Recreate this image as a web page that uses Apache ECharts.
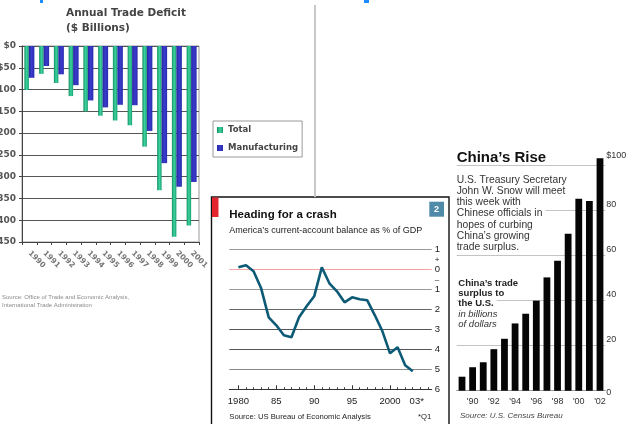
<!DOCTYPE html>
<html><head><meta charset="utf-8">
<script src="https://cdn.jsdelivr.net/npm/echarts@6/dist/echarts.min.js"></script>
<style>html,body{margin:0;padding:0;background:#fff}#c{width:626px;height:424px}</style>
</head><body><div id="c"></div>
<script>
// ---- Left panel: Annual Trade Deficit ($ Billions)
const deficitYears = ['1990','1991','1992','1993','1994','1995','1996','1997','1998','1999','2000','2001'];
const deficitTotal = [-101,-64,-85,-115,-150,-160,-171,-182,-231,-331,-438,-412];
const deficitManufacturing = [-73,-46,-65,-90,-125,-141,-135,-136,-195,-269,-323,-312];

// ---- Middle panel: current-account balance, % of GDP
const caYears = [1980,1981,1982,1983,1984,1985,1986,1987,1988,1989,1990,1991,1992,1993,1994,1995,1996,1997,1998,1999,2000,2001,2002,2003];
const caBalance = [0.1,0.2,-0.1,-0.95,-2.4,-2.8,-3.3,-3.4,-2.4,-1.85,-1.35,0.1,-0.7,-1.1,-1.65,-1.4,-1.5,-1.55,-2.3,-3.1,-4.2,-3.9,-4.8,-5.1];
const caLabelYears = [1980,1985,1990,1995,2000,2003];
const caLabelTexts = ['1980','85','90','95','2000','03*'];

// ---- Right panel: China's trade surplus to the U.S. (billions)
const chinaYears = ['1989','1990','1991','1992','1993','1994','1995','1996','1997','1998','1999','2000','2001','2002'];
const chinaSurplus = [6.2,10.4,12.6,18.4,23,29.8,34.1,39.9,50.2,57.6,69.5,85,84,103];
const chinaYLabels = {0:'0',20:'20',40:'40',60:'60',80:'80',100:'$100'};

const chart = echarts.init(document.getElementById('c'));

const greenGrad = new echarts.graphic.LinearGradient(0,0,1,0,[
  {offset:0,color:'#10905f'},{offset:0.5,color:'#3fd2a0'},{offset:1,color:'#16a070'}]);
const blueGrad = new echarts.graphic.LinearGradient(0,0,1,0,[
  {offset:0,color:'#2527a0'},{offset:0.5,color:'#3a3ccc'},{offset:1,color:'#2a2cae'}]);

const yearTicks = caYears.concat([2004,2005]);
const caMajorTicks = [1980,1985,1990,1995,2000];

function txt(x,y,text,font,color,extra){
  return {type:'text',x:x,y:y,z:20,style:Object.assign({text:text,font:font,fill:color||'#222',textVerticalAlign:'middle'},extra||{})};
}
const wb = {backgroundColor:'#fff',padding:[0,3,0,0]};

const option = {
  animation:false,
  backgroundColor:'#fff',
  legend:{
    data:['Total','Manufacturing'], orient:'vertical', left:213, top:121,
    borderColor:'#999', borderWidth:1, padding:[4,4,4,4],
    itemWidth:6, itemHeight:6, itemGap:8, icon:'rect',
    textStyle:{fontSize:8.5,fontFamily:'DejaVu Sans',fontWeight:'bold',color:'#444',lineHeight:10}
  },
  grid:[
    {left:22,top:46,width:177,height:196,show:true,borderColor:'#999',borderWidth:1,backgroundColor:'#fff',outerBoundsMode:'none',containLabel:false},
    {left:229.3,top:249.3,width:202.4,height:140,outerBoundsMode:'none',containLabel:false},
    {left:456.7,top:165,width:148.6,height:225.7,outerBoundsMode:'none',containLabel:false}
  ],
  xAxis:[
    {gridIndex:0,type:'category',data:deficitYears,position:'bottom',
     axisLine:{onZero:false,lineStyle:{color:'#444'}},
     axisTick:{show:true,length:3,lineStyle:{color:'#444'}},
     axisLabel:{rotate:-45,margin:10,fontSize:7.5,fontFamily:'DejaVu Sans',fontWeight:'bold',color:'#777',interval:0}},
    {gridIndex:1,type:'value',min:1978.8,max:2005.5,position:'bottom',
     axisLine:{onZero:false,lineStyle:{color:'#333',width:1}},
     axisTick:{show:true,inside:true,length:2,customValues:yearTicks,lineStyle:{color:'#333'}},
     axisLabel:{show:true,customValues:caLabelYears,margin:7,fontSize:9.5,fontFamily:'Liberation Sans',color:'#222',
       formatter:function(v){const i=caLabelYears.indexOf(v);const t=i>=0?caLabelTexts[i]:'';return v===2003?'{s|'+t+'}':t;},
       rich:{s:{fontSize:9.5,fontFamily:'Liberation Sans',color:'#222',padding:[0,0,0,8]}}},
     splitLine:{show:false}},
    {gridIndex:1,type:'value',min:1978.8,max:2005.5,position:'bottom',
     axisLine:{show:false,onZero:false},
     axisTick:{show:true,inside:true,length:4,customValues:caMajorTicks,lineStyle:{color:'#333'}},
     axisLabel:{show:false},splitLine:{show:false}},
    {gridIndex:2,type:'category',data:chinaYears,boundaryGap:true,
     axisLine:{lineStyle:{color:'#999'}},axisTick:{show:false},
     axisLabel:{interval:function(i){return i%2===1;},margin:6,fontSize:9,fontFamily:'Liberation Sans',color:'#333',
       formatter:function(v){return "'"+v.slice(2);}}}
  ],
  yAxis:[
    {gridIndex:0,type:'value',min:-450,max:0,interval:50,
     axisLine:{show:true,lineStyle:{color:'#444'}},
     axisTick:{show:true,length:3,lineStyle:{color:'#444'}},
     axisLabel:{margin:6,fontSize:9,fontFamily:'DejaVu Sans',fontWeight:'bold',color:'#555',
       formatter:function(v){return v===0?'$0':'-$'+Math.abs(v);}},
     splitLine:{lineStyle:{color:'#555',width:1}}},
    {gridIndex:1,type:'value',min:-6,max:1,interval:1,position:'right',
     axisLine:{show:false},axisTick:{show:false},
     axisLabel:{margin:3,fontSize:9.5,fontFamily:'Liberation Sans',color:'#222',
       formatter:function(v){return v===0?'{s|+}\n{n|0}\n{s|–}':'{n|'+Math.abs(v)+'}';},
       rich:{n:{fontSize:9.5,lineHeight:10,fontFamily:'Liberation Sans',color:'#222'},
             s:{fontSize:8,lineHeight:10,fontFamily:'Liberation Sans',color:'#222'}}},
     splitLine:{lineStyle:{width:1.2,color:['#333','#8a8a8a','#555','#555','#666','#999','#f4a2a2','#999']}}},
    {gridIndex:2,type:'value',min:0,max:100,interval:20,position:'right',
     axisLine:{show:false},axisTick:{show:false},
     axisLabel:{margin:1,fontSize:9,fontFamily:'Liberation Sans',color:'#333',
       formatter:function(v){const t=chinaYLabels[v];return v===0?'{z|'+t+'}':(v===100?'{h|'+t+'}':'{a|'+t+'}');},
       rich:{z:{fontSize:9,color:'#333',padding:[4,0,0,0]},
             a:{fontSize:9,color:'#333',padding:[0,0,12,0]},
             h:{fontSize:9,color:'#333',padding:[0,0,18,0]}}},
     splitLine:{lineStyle:{color:'#c4c4c4',width:1}}}
  ],
  series:[
    {name:'Total',type:'bar',xAxisIndex:0,yAxisIndex:0,data:deficitTotal,barWidth:4.5,barGap:'0%',
     itemStyle:{color:greenGrad}},
    {name:'Manufacturing',type:'bar',xAxisIndex:0,yAxisIndex:0,data:deficitManufacturing,barWidth:5.5,barGap:'0%',
     itemStyle:{color:blueGrad}},
    {name:'Current account',type:'line',xAxisIndex:1,yAxisIndex:1,
     data:caYears.map(function(y,i){return [y,caBalance[i]];}),
     symbol:'none',lineStyle:{color:'#0d5a76',width:2.6},z:5},
    {name:'China surplus',type:'bar',xAxisIndex:3,yAxisIndex:2,data:chinaSurplus,barCategoryGap:'36%',clip:false,
     itemStyle:{color:'#050505'}}
  ],
  graphic:[
    {type:'rect',shape:{x:40,y:0,width:3,height:3},style:{fill:'#1a8cff'}},
    {type:'rect',shape:{x:364,y:0,width:5,height:3},style:{fill:'#1a8cff'}},
    {type:'line',shape:{x1:315,y1:5,x2:315,y2:197},style:{stroke:'#c8c8c8',lineWidth:2}},
    txt(66,13,'Annual Trade Deficit','bold 10.5px "DejaVu Sans"','#444'),
    txt(66,28,'($ Billions)','bold 10.5px "DejaVu Sans"','#444'),
    txt(2,297,'Source: Office of Trade and Economic Analysis,','6px "Liberation Sans"','#8a8a8a'),
    txt(2,305,'International Trade Administration','6px "Liberation Sans"','#8a8a8a'),
    {type:'rect',z:-1,shape:{x:211.5,y:197,width:237.5,height:240},style:{fill:'#fff',stroke:'#111',lineWidth:1.4}},
    {type:'rect',shape:{x:212,y:197.5,width:6.5,height:19.5},style:{fill:'#e3262e'}},
    {type:'rect',shape:{x:429.3,y:201.7,width:14.7,height:15},style:{fill:'#4f8aa8'}},
    txt(436.6,209.5,'2','bold 9px "Liberation Sans"','#fff',{textAlign:'center'}),
    txt(229.3,215,'Heading for a crash','bold 11.5px "Liberation Sans"','#111'),
    txt(229.3,231,'America\u2019s current-account balance as % of GDP','9px "Liberation Sans"','#222'),
    txt(229.3,417,'Source: US Bureau of Economic Analysis','7.7px "Liberation Sans"','#222'),
    txt(418,417,'*Q1','7.7px "Liberation Sans"','#222'),
    txt(456.7,158.3,'China\u2019s Rise','bold 15px "Liberation Sans"','#111'),
    txt(456.7,180,'U.S. Treasury Secretary','10.3px "Liberation Sans"','#333',wb),
    txt(456.7,191.2,'John W. Snow will meet','10.3px "Liberation Sans"','#333',wb),
    txt(456.7,202.4,'this week with','10.3px "Liberation Sans"','#333',wb),
    txt(456.7,213.6,'Chinese officials in','10.3px "Liberation Sans"','#333',wb),
    txt(456.7,224.8,'hopes of curbing','10.3px "Liberation Sans"','#333',wb),
    txt(456.7,236,'China\u2019s growing','10.3px "Liberation Sans"','#333',wb),
    txt(456.7,247.2,'trade surplus.','10.3px "Liberation Sans"','#333',wb),
    txt(458.3,283.3,'China\u2019s trade','bold 9.5px "Liberation Sans"','#222',wb),
    txt(458.3,293.5,'surplus to','bold 9.5px "Liberation Sans"','#222',wb),
    txt(458.3,303.7,'the U.S.','bold 9.5px "Liberation Sans"','#222',wb),
    txt(458.3,313.9,'in billions','italic 9.5px "Liberation Sans"','#333',wb),
    txt(458.3,324.1,'of dollars','italic 9.5px "Liberation Sans"','#333',wb),
    txt(460,415.7,'Source: U.S. Census Bureau','italic 8px "Liberation Sans"','#444')
  ]
};
chart.setOption(option);
</script>
</body></html>
